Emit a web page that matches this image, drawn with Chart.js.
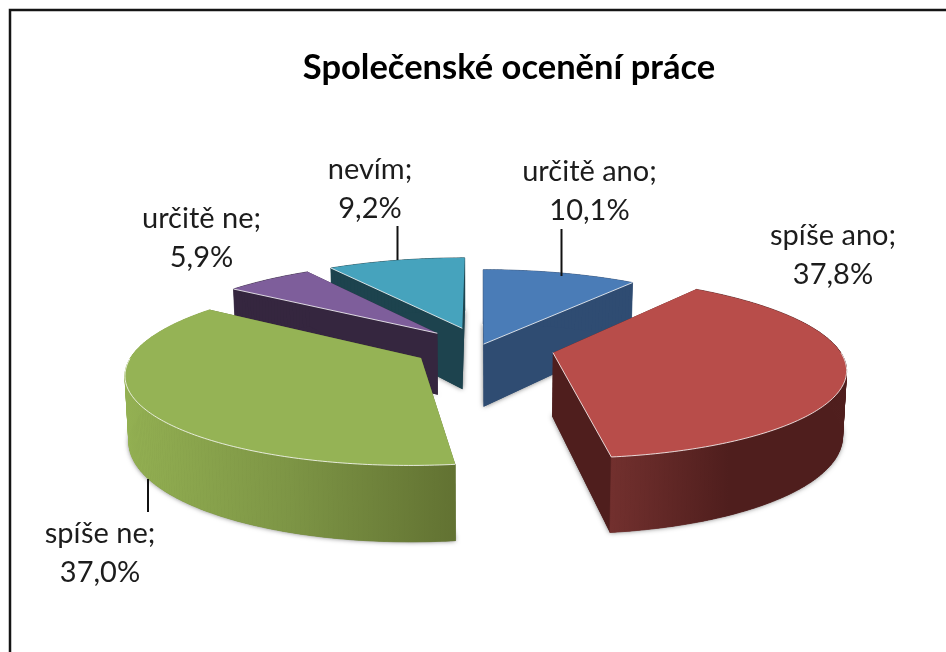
<!DOCTYPE html>
<html lang="cs">
<head>
<meta charset="utf-8">
<title>Společenské ocenění práce</title>
<style>
html,body{margin:0;padding:0;background:#fff;overflow:hidden}
canvas{display:block;filter:blur(.45px)}
</style>
<script src="https://cdn.jsdelivr.net/npm/chart.js@4"></script>
</head>
<body>
<canvas id="c" width="946" height="652"></canvas>
<script>
const titleText = 'Společenské ocenění práce';
const categories = ['určitě ano', 'spíše ano', 'spíše ne', 'určitě ne', 'nevím'];
const values = [10.1, 37.8, 37.0, 5.9, 9.2];
const explosions = [10, 74, 68, 64, 66];
const topColors = ['#4A7CB7', '#B84D4A', '#95B355', '#7E5E9B', '#46A3BD'];
const faceColors = ['#2F4C72', '#4F1E1D', '#5F7031', '#35263F', '#1D434E'];
const rimStops = [
  ['#2F4C72', '#2F4C72', '#2F4C72'],
  ['#72302E', '#4F1E1D', '#4F1E1D'],
  ['#93B052', '#7D9545', '#627232'],
  ['#35263F', '#35263F', '#35263F'],
  ['#1D434E', '#1D434E', '#1D434E']
];
const drawOrder = [4, 0, 3, 2, 1];

const view = {cx: 480.5, cy: 347, k: 0.305, p: 0.00055, depth: 63, shrink: 0.011};
const labelBoxes = [
  {x: 589.5, y: 181}, {x: 833, y: 245}, {x: 100, y: 543}, {x: 201.5, y: 228}, {x: 370, y: 179}
];
const labelGap = 38.5;
const leaders = [
  [561.5, 229, 276], [148, 479, 512], [397.5, 226, 260]
];
const font = 'Lato, sans-serif';

function project(X, Y, h) {
  const w = 1 + view.p * Y;
  return [view.cx + (X / w) * (1 - view.shrink * h), view.cy - view.k * Y / w + h * view.depth / w];
}

function geometry(arc) {
  const t0 = arc.startAngle + Math.PI / 2, t1 = arc.endAngle + Math.PI / 2;
  const mid = (t0 + t1) / 2, e = arc.options.offset || 0, R = arc.outerRadius;
  const ax = e * Math.sin(mid), ay = e * Math.cos(mid);
  const n = Math.max(4, Math.ceil((t1 - t0) / 0.015));
  const rim = [];
  for (let i = 0; i <= n; i++) {
    const t = t0 + (t1 - t0) * i / n;
    rim.push([ax + R * Math.sin(t), ay + R * Math.cos(t), t]);
  }
  return {t0, t1, ax, ay, rim};
}

function poly(ctx, pts) {
  ctx.beginPath();
  pts.forEach((p, i) => i ? ctx.lineTo(p[0], p[1]) : ctx.moveTo(p[0], p[1]));
  ctx.closePath();
}

function drawSlice(ctx, arc, idx) {
  const g = geometry(arc);
  const top = [project(g.ax, g.ay, 0)].concat(g.rim.map(r => project(r[0], r[1], 0)));
  const bottom = [project(g.ax, g.ay, 1)].concat(g.rim.map(r => project(r[0], r[1], 1)));
  const last = top.length - 1;

  // soft shadow round the solid
  ctx.save();
  ctx.shadowColor = 'rgba(0,0,0,0.55)';
  ctx.shadowBlur = 5;
  ctx.fillStyle = faceColors[idx];
  poly(ctx, bottom); ctx.fill();
  ctx.restore();

  // radial faces
  ctx.fillStyle = faceColors[idx];
  poly(ctx, [top[0], top[1], bottom[1], bottom[0]]); ctx.fill();
  poly(ctx, [top[0], top[last], bottom[last], bottom[0]]); ctx.fill();

  // rim wall, one quad per step so the fold at the silhouette cannot cancel out
  const front = g.rim.map((r, i) => ({r, i})).filter(o => Math.cos(o.r[2]) < 0.15);
  let x0 = 1e9, x1 = -1e9;
  front.forEach(o => { const px = top[o.i + 1][0]; x0 = Math.min(x0, px); x1 = Math.max(x1, px); });
  let fill = faceColors[idx];
  if (front.length > 1) {
    fill = ctx.createLinearGradient(x0, 0, x1, 0);
    rimStops[idx].forEach((c, i) => fill.addColorStop(i / 2, c));
  }
  ctx.fillStyle = fill;
  ctx.strokeStyle = fill;
  ctx.lineWidth = 0.7;
  for (let i = 1; i < last; i++) {
    poly(ctx, [top[i], top[i + 1], bottom[i + 1], bottom[i]]);
    ctx.fill();
    ctx.stroke();
  }

  // top face
  ctx.fillStyle = arc.options.backgroundColor;
  poly(ctx, top); ctx.fill();

  // light bevel along edges that have a visible wall beneath
  ctx.strokeStyle = 'rgba(255,255,255,0.8)';
  ctx.lineWidth = 1;
  const line = pts => { ctx.beginPath(); pts.forEach((p, i) => i ? ctx.lineTo(p[0], p[1]) : ctx.moveTo(p[0], p[1])); ctx.stroke(); };
  if (Math.sin(g.t1) > 0.02) line([top[0], top[last]]);
  if (Math.sin(g.t0) < -0.02) line([top[0], top[1]]);
  const vis = [];
  g.rim.forEach((r, i) => { if (Math.cos(r[2]) < 0) vis.push(top[i + 1]); });
  if (vis.length > 1) line(vis);
}

const solidPie = {
  id: 'solidPie',
  beforeDraw(chart) {
    const ctx = chart.ctx;
    ctx.save();
    ctx.fillStyle = '#fff';
    ctx.fillRect(0, 0, chart.width, chart.height);
    ctx.strokeStyle = '#141414';
    ctx.lineWidth = 2.5;
    ctx.beginPath();
    ctx.moveTo(10, chart.height + 2);
    ctx.lineTo(10, 10);
    ctx.lineTo(chart.width + 2, 10);
    ctx.stroke();
    ctx.restore();
  },
  beforeDatasetDraw(chart, args) {
    const ctx = chart.ctx, arcs = chart.getDatasetMeta(args.index).data;
    ctx.save();
    drawOrder.forEach(i => drawSlice(ctx, arcs[i], i));
    ctx.restore();
    return false;
  },
  afterDraw(chart) {
    const ctx = chart.ctx;
    ctx.save();
    ctx.strokeStyle = '#111';
    ctx.lineWidth = 2;
    leaders.forEach(l => { ctx.beginPath(); ctx.moveTo(l[0], l[1]); ctx.lineTo(l[0], l[2]); ctx.stroke(); });
    ctx.fillStyle = '#1c1c1c';
    ctx.font = '29px ' + font;
    ctx.textAlign = 'center';
    ctx.textBaseline = 'alphabetic';
    categories.forEach((c, i) => {
      const b = labelBoxes[i];
      ctx.fillText(c + ';', b.x, b.y);
      ctx.fillText(values[i].toFixed(1).replace('.', ',') + '%', b.x, b.y + labelGap);
    });
    ctx.restore();
  }
};

new Chart(document.getElementById('c'), {
  type: 'pie',
  data: {
    labels: categories,
    datasets: [{data: values, backgroundColor: topColors, offset: explosions, radius: 285, borderWidth: 0}]
  },
  options: {
    responsive: false,
    animation: false,
    layout: {padding: {left: 72}},
    plugins: {
      legend: {display: false},
      tooltip: {enabled: false},
      title: {
        display: true,
        text: titleText,
        color: '#000',
        font: {family: font, size: 34.5, weight: 'bold'},
        padding: {top: 47, bottom: 10}
      }
    }
  },
  plugins: [solidPie]
});
</script>
</body>
</html>
